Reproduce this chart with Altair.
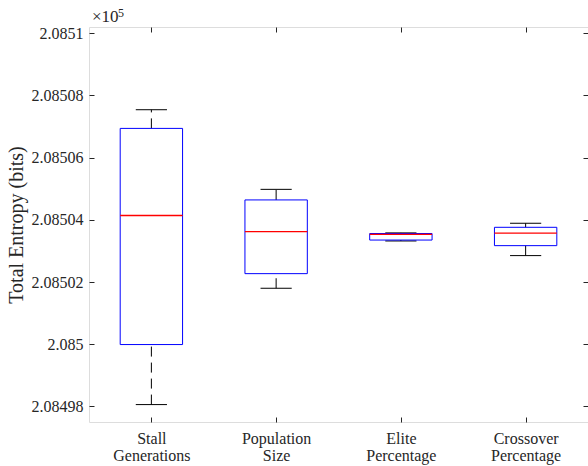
import altair as alt
import pandas as pd

categories = ["Stall Generations", "Population Size", "Elite Percentage", "Crossover Percentage"]
label_lines = [["Stall", "Generations"], ["Population", "Size"], ["Elite", "Percentage"], ["Crossover", "Percentage"]]
positions = [1, 2, 3, 4]
lower_whisker = [208498.06, 208501.80, 208503.32, 208502.85]
q1 = [208499.99, 208502.27, 208503.35, 208503.17]
median = [208504.14, 208503.62, 208503.53, 208503.57]
q3 = [208506.94, 208504.64, 208503.56, 208503.76]
upper_whisker = [208507.54, 208504.98, 208503.58, 208503.89]
y_ticks = [208498, 208500, 208502, 208504, 208506, 208508, 208510]
y_domain = [208497.5, 208510.2]
x_domain = [0.5, 4.5]
box_half = 0.25
cap_half = 0.125

df = pd.DataFrame({
    "cat": categories, "pos": positions, "lo": lower_whisker, "q1": q1,
    "med": median, "q3": q3, "hi": upper_whisker,
})

FONT = "Liberation Serif"
AX = "#262626"
xs = alt.Scale(domain=x_domain, nice=False, zero=False)
ys = alt.Scale(domain=y_domain, nice=False, zero=False)

label_arr = "[" + ",".join("[" + ",".join(f"'{s}'" for s in l) + "]" for l in label_lines) + "]"

common_axis = dict(domain=False, grid=False, tickColor=AX, tickSize=5, offset=-5,
                   labelFont=FONT, labelFontSize=16, labelColor=AX, tickWidth=1)

x_bottom = alt.Axis(values=positions, labelExpr=f"{label_arr}[datum.value-1]",
                    labelPadding=8, labelLineHeight=17, title=None, labelAngle=0, **common_axis)
y_left = alt.Axis(values=y_ticks, labelExpr="format(datum.value/100000, '.6~g')",
                  labelPadding=6, title="Total Entropy (bits)", titleFont=FONT, titleFontSize=20,
                  titleFontWeight="normal", titleColor=AX, titlePadding=5, **common_axis)
x_top = alt.Axis(values=positions, orient="top", labels=False, title=None, **common_axis)
y_right = alt.Axis(values=y_ticks, orient="right", labels=False, title=None, **common_axis)

base = alt.Chart(df).transform_calculate(
    bx1=f"datum.pos - {box_half}", bx2=f"datum.pos + {box_half}",
    cx1=f"datum.pos - {cap_half}", cx2=f"datum.pos + {cap_half}")

whisk_lo = base.mark_rule(color="black", strokeDash=[10, 6], strokeWidth=1).encode(
    x=alt.X("pos:Q", scale=xs, axis=x_bottom),
    y=alt.Y("lo:Q", scale=ys, axis=y_left), y2="q1:Q")
whisk_hi = base.mark_rule(color="black", strokeDash=[10, 6], strokeWidth=1).encode(
    x=alt.X("pos:Q", scale=xs, axis=None),
    y=alt.Y("q3:Q", scale=ys, axis=None), y2="hi:Q")
cap_lo = base.mark_rule(color="black", strokeWidth=1).encode(
    x=alt.X("cx1:Q", scale=xs, axis=None), x2="cx2:Q", y=alt.Y("lo:Q", scale=ys, axis=None))
cap_hi = base.mark_rule(color="black", strokeWidth=1).encode(
    x=alt.X("cx1:Q", scale=xs, axis=None), x2="cx2:Q", y=alt.Y("hi:Q", scale=ys, axis=None))
box = base.mark_rect(fill="white", fillOpacity=0, stroke="#0000FF", strokeWidth=1).encode(
    x=alt.X("bx1:Q", scale=xs, axis=None), x2="bx2:Q",
    y=alt.Y("q1:Q", scale=ys, axis=None), y2="q3:Q")
med = base.mark_rule(color="#FF0000", strokeWidth=1.3).encode(
    x=alt.X("bx1:Q", scale=xs, axis=None), x2="bx2:Q", y=alt.Y("med:Q", scale=ys, axis=None))
frame_axes = base.mark_point(opacity=0).encode(
    x=alt.X("pos:Q", scale=xs, axis=x_top), y=alt.Y("med:Q", scale=ys, axis=y_right))

ann = pd.DataFrame({"t": ["×10"], "e": ["5"]})
times = alt.Chart(ann).mark_text(font=FONT, fontSize=17, color=AX, align="left", baseline="alphabetic").encode(
    x=alt.value(3), y=alt.value(-5), text="t:N", size=alt.value(17))
expo = alt.Chart(ann).mark_text(font=FONT, fontSize=12, color=AX, align="left", baseline="alphabetic").encode(
    x=alt.value(29), y=alt.value(-10), text="e:N", size=alt.value(12))

chart = alt.layer(whisk_lo, whisk_hi, cap_lo, cap_hi, box, med, frame_axes, times, expo).resolve_axis(
    x="independent", y="independent"
).properties(
    width=499, height=395, autosize=alt.AutoSizeParams(type="none"),
    padding={"left": 89, "top": 27, "right": 0, "bottom": 44}
).configure_view(stroke=AX, strokeWidth=1).configure(background="white")

chart.save("out.html", embed_options={"renderer": "svg", "actions": False})
